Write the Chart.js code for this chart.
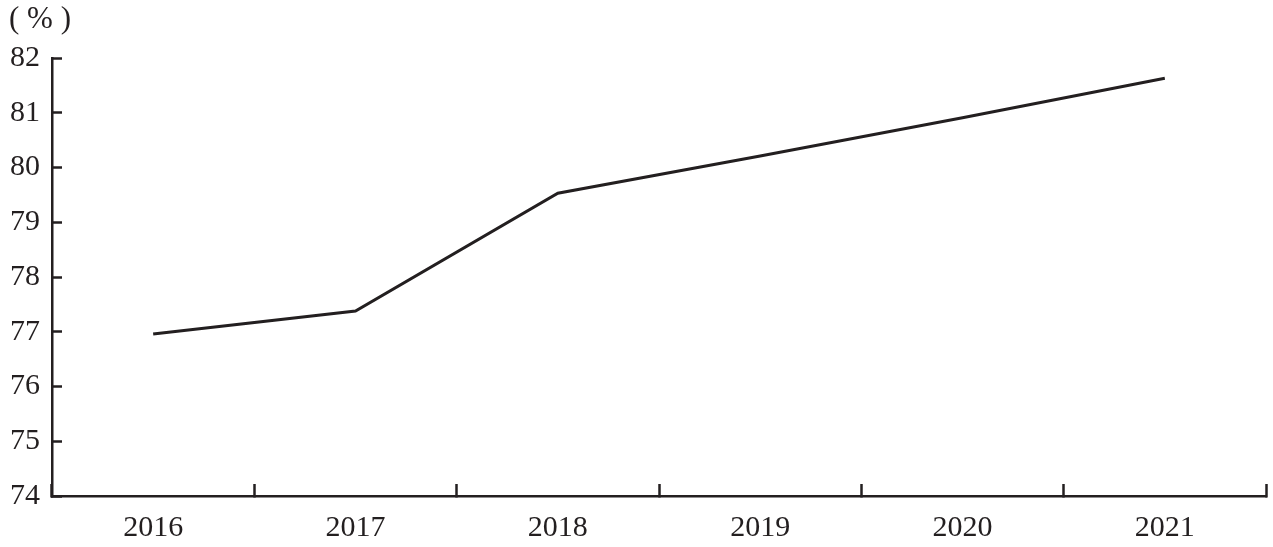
<!DOCTYPE html>
<html>
<head>
<meta charset="utf-8">
<script src="https://cdn.jsdelivr.net/npm/chart.js@4/dist/chart.umd.min.js"></script>
<style>
  html, body { margin: 0; padding: 0; background: #fff; }
  #wrap { width: 1273px; height: 547px; }
</style>
</head>
<body>
<div id="wrap"><canvas id="myChart"></canvas></div>
<script>
// data
const years = ['2016', '2017', '2018', '2019', '2020', '2021'];
const rates = [76.96, 77.38, 79.53, 80.21, 80.91, 81.63];
const yMin = 74;
const yMax = 82;
const unitLabel = '( % )';

const ink = '#231f20';
const serif = '"Liberation Serif", "DejaVu Serif", serif';

// unit label above the y axis
const unitPlugin = {
    id: 'unitLabel',
    afterDraw(chart) {
        const ctx = chart.ctx;
        ctx.save();
        ctx.font = '31px ' + serif;
        ctx.fillStyle = ink;
        ctx.textAlign = 'left';
        ctx.textBaseline = 'middle';
        ctx.fillText(unitLabel, 9, 20);
        ctx.restore();
    }
};

var ctx = document.getElementById('myChart').getContext('2d');
var myChart = new Chart(ctx, {
    type: 'line',
    data: {
        labels: years,
        datasets: [{
            data: rates,
            borderColor: ink,
            borderWidth: 3,
            pointRadius: 0,
            tension: 0,
            fill: false
        }]
    },
    options: {
        responsive: true,
        maintainAspectRatio: false,
        animation: false,
        layout: { padding: { top: 58, right: 7, left: 0, bottom: 0 } },
        plugins: {
            legend: { display: false },
            tooltip: { enabled: false }
        },
        scales: {
            x: {
                offset: true,
                grid: {
                    offset: true,
                    drawOnChartArea: false,
                    drawTicks: true,
                    tickLength: -12,
                    tickWidth: 2.5,
                    tickColor: ink
                },
                border: { color: ink, width: 2.5 },
                ticks: {
                    color: ink,
                    font: { family: serif, size: 30 },
                    padding: 26,
                    maxRotation: 0
                },
                afterFit(scale) { scale.height = 51; }
            },
            y: {
                min: yMin,
                max: yMax,
                grid: {
                    drawOnChartArea: false,
                    drawTicks: true,
                    tickLength: -10,
                    tickWidth: 2.5,
                    tickColor: ink
                },
                border: { color: ink, width: 2.5 },
                ticks: {
                    stepSize: 1,
                    color: ink,
                    font: { family: serif, size: 30 },
                    padding: 22
                },
                afterFit(scale) { scale.width = 52; }
            }
        }
    },
    plugins: [unitPlugin]
});
</script>
</body>
</html>
